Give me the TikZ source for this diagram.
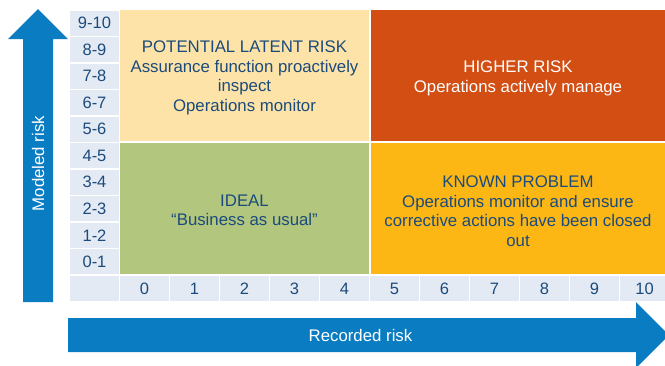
\documentclass[tikz,border=0pt]{standalone}
\usepackage{fontspec}
\setmainfont{Liberation Sans}
\usetikzlibrary{positioning}

\definecolor{cellbg}{HTML}{E4EAF4}
\definecolor{inkblue}{HTML}{1B4B7C}
\definecolor{axisblue}{HTML}{0A7CC1}
\definecolor{latentfill}{HTML}{FDE3A7}
\definecolor{higherfill}{HTML}{D34E13}
\definecolor{idealfill}{HTML}{B2C67D}
\definecolor{knownfill}{HTML}{FDB714}

\begin{document}
\begin{tikzpicture}[x=1pt,y=-1pt,
	cell/.style={fill=cellbg,text=inkblue,minimum width=49pt,minimum height=25pt,inner sep=0pt,font=\fontsize{16.5}{19.5}\selectfont},
	quad/.style={minimum height=131pt,inner sep=0pt},
	quadtext/.style={inner sep=0pt,text=inkblue,align=center,font=\fontsize{16.8}{19.5}\selectfont},
	axislabel/.style={text=white,font=\fontsize{16.8}{19.5}\selectfont}]

\useasboundingbox (0,0) rectangle (665,365);

\def\w{50}
\def\h{26.5}

% axis arrows
\fill[axisblue] (23,302) -- (23,39) -- (8,39) -- (38,9) -- (68,39) -- (53,39) -- (53,302) -- cycle;
\fill[axisblue] (68,318) -- (636,318) -- (636,302) -- (669,335) -- (636,368) -- (636,352) -- (68,352) -- cycle;
\node[axislabel,rotate=90] (modeled) at (38,163.5) {Modeled risk};
\node[axislabel] (recorded) at (360.5,335) {Recorded risk};

% row labels
\foreach \i [evaluate=\i as \y using 261.75-\h*\i, evaluate=\i as \j using int(\i+1)] in {0,...,9}
	\node[cell] (r-\i) at (94.5,\y) {\i-\j};

% column labels
\node[cell] (corner) at (94.5,288.5) {};
\foreach \i [evaluate=\i as \x using 144.5+\w*\i] in {0,...,10}
	\node[cell] (c-\i) at (\x,288.5) {\i};

% quadrants
\node[quad,fill=latentfill,minimum width=249pt] (latent) at (244.5,75.5) {};
\node[quad,fill=higherfill,minimum width=294pt] (higher) at (518,75.5) {};
\node[quad,fill=idealfill,minimum width=249pt] (ideal) at (244.5,208.5) {};
\node[quad,fill=knownfill,minimum width=294pt] (known) at (518,208.5) {};

\node[quadtext] (latent-t) at ([yshift=-2.5pt]latent.center)
	{POTENTIAL LATENT RISK\\Assurance function proactively\\inspect\\Operations monitor};
\node[quadtext,text=white] (higher-t) at ([yshift=-3pt]higher.center)
	{HIGHER RISK\\Operations actively manage};
\node[quadtext] (ideal-t) at ([yshift=-2pt]ideal.center)
	{IDEAL\\“Business as usual”};
\node[quadtext] (known-t) at ([yshift=-2.5pt]known.center)
	{KNOWN PROBLEM\\Operations monitor and ensure\\corrective actions have been closed\\out};
\end{tikzpicture}
\end{document}
